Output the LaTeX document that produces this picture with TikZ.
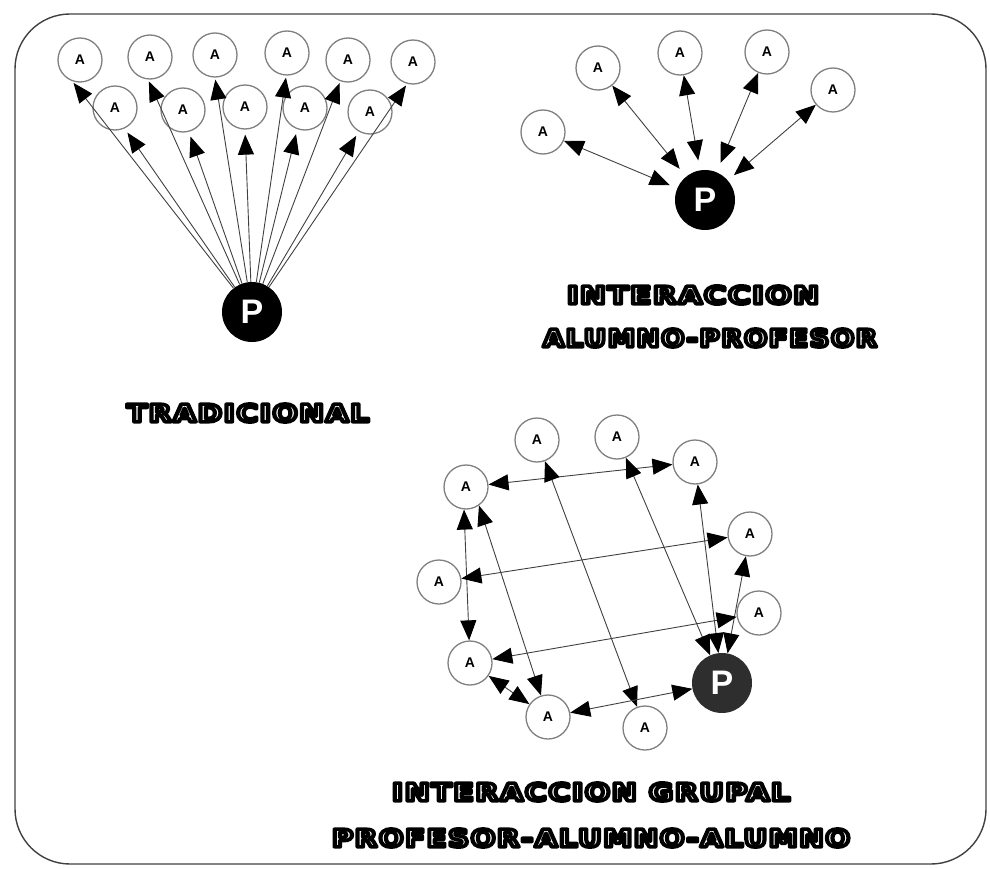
\documentclass[tikz,border=0pt]{standalone}
\usepackage{fontspec}
\setmainfont{Liberation Sans}
\newfontfamily\lblfont{DejaVu Sans}[LetterSpace=6]
\usepackage{graphicx}
\usetikzlibrary{arrows.meta}
\tikzset{
  alum/.style={circle,draw=black!50,line width=1.3pt,fill=white,minimum size=44pt,inner sep=0pt,font=\fontsize{14}{14}\selectfont\bfseries},
  prof/.style={circle,fill=black,minimum size=60pt,inner sep=0pt,font=\fontsize{34}{34}\selectfont\bfseries,text=white},
  link/.style={draw=black!75,line width=0.9pt},
  onetip/.style={-{Triangle[length=20pt,width=16pt,color=black]}},
  twotip/.style={{Triangle[length=20pt,width=16pt,color=black]}-{Triangle[length=20pt,width=16pt,color=black]}},
  lbl/.style={inner sep=0pt}
}
\newcommand{\outlbl}[3]{\resizebox{#1}{#2}{\textcolor{white}{\special{pdf:literal direct q 2 Tr 0 G 3.2 w 1 j}\lblfont\bfseries\fontsize{22}{22}\selectfont #3\special{pdf:literal direct Q}}}}
\begin{document}
\begin{tikzpicture}[x=1pt,y=-1pt]
\useasboundingbox (0,0) rectangle (990,869);
\draw[black!75,line width=1.4pt,rounded corners=55pt] (15,14) rectangle (986,864);

% ---------- TRADICIONAL ----------
\node[prof] (P1) at (252,312) {P};
\node[alum] (T1) at (80,60) {A};
\node[alum] (T2) at (150,57) {A};
\node[alum] (T3) at (215,55) {A};
\node[alum] (T4) at (287,53) {A};
\node[alum] (T5) at (348,60) {A};
\node[alum] (T6) at (413,62) {A};
\node[alum] (B1) at (115,108) {A};
\node[alum] (B2) at (183,110) {A};
\node[alum] (B3) at (245,107) {A};
\node[alum] (B4) at (305,108) {A};
\node[alum] (B5) at (370,112) {A};

\draw[link,onetip,shorten >=2pt] (P1) -- (T1.250);
\draw[link,onetip,shorten >=2pt] (P1) -- (T2.265);
\draw[link,onetip,shorten >=2pt] (P1) -- (T3.270);
\draw[link,onetip,shorten >=2pt] (P1) -- (T4.268);
\draw[link,onetip,shorten >=2pt] (P1) -- (T5.250);
\draw[link,onetip,shorten >=2pt] (P1) -- (T6.255);
\draw[link,onetip,shorten >=5pt] (P1) -- (B1.-65);
\draw[link,onetip,shorten >=5pt] (P1) -- (B2.-75);
\draw[link,onetip,shorten >=5pt] (P1) -- (B3.-90);
\draw[link,onetip,shorten >=5pt] (P1) -- (B4.-110);
\draw[link,onetip,shorten >=5pt] (P1) -- (B5.-120);

\node[lbl] (L1) at (248,413) {\outlbl{242pt}{18pt}{TRADICIONAL}};

% ---------- INTERACCION ALUMNO-PROFESOR ----------
\node[prof] (P2) at (705,200) {P};
\node[alum] (Q1) at (543,132) {A};
\node[alum] (Q2) at (598,68) {A};
\node[alum] (Q3) at (680,53) {A};
\node[alum] (Q4) at (767,52) {A};
\node[alum] (Q5) at (833,90) {A};

\draw[link,twotip,shorten >=8pt] (Q1) -- (P2);
\draw[link,twotip,shorten >=10pt] (Q2) -- (P2);
\draw[link,twotip,shorten >=10pt] (Q3) -- (P2);
\draw[link,twotip,shorten >=10pt] (Q4) -- (P2);
\draw[link,twotip,shorten >=8pt] (Q5) -- (P2);

\node[lbl] (L2) at (693,295) {\outlbl{252pt}{18pt}{INTERACCION}};
\node[lbl] (L3) at (710,338) {\outlbl{334pt}{18pt}{ALUMNO-PROFESOR}};

% ---------- INTERACCION GRUPAL ----------
\node[alum] (G1) at (466,487) {A};
\node[alum] (G2) at (537,440) {A};
\node[alum] (G3) at (617,437) {A};
\node[alum] (G4) at (695,462) {A};
\node[alum] (G5) at (750,534) {A};
\node[alum] (G6) at (759,613) {A};
\node[prof,fill=black!82] (P3) at (722,683) {P};
\node[alum] (G7) at (645,728) {A};
\node[alum] (G8) at (548,717) {A};
\node[alum] (G9) at (470,663) {A};
\node[alum] (G10) at (439,582) {A};

\draw[link,twotip] (G1) -- (G4);
\draw[link,twotip] (G1.-95) -- (G9);
\draw[link,twotip] (G1.-55) -- (G8);
\draw[link,twotip] (G2) -- (G7);
\draw[link,twotip] (G3) -- (P3);
\draw[link,twotip] (G4) -- (P3);
\draw[link,twotip] (G10) -- (G5);
\draw[link,twotip] (G5) -- (P3);
\draw[link,twotip] (G6) -- (G9);
\draw[link,twotip] (G9) -- (G8);
\draw[link,twotip] (G8) -- (P3);

\node[lbl] (L4) at (591,792) {\outlbl{398pt}{18pt}{INTERACCION GRUPAL}};
\node[lbl] (L5) at (591,838) {\outlbl{518pt}{18pt}{PROFESOR-ALUMNO-ALUMNO}};
\end{tikzpicture}
\end{document}
